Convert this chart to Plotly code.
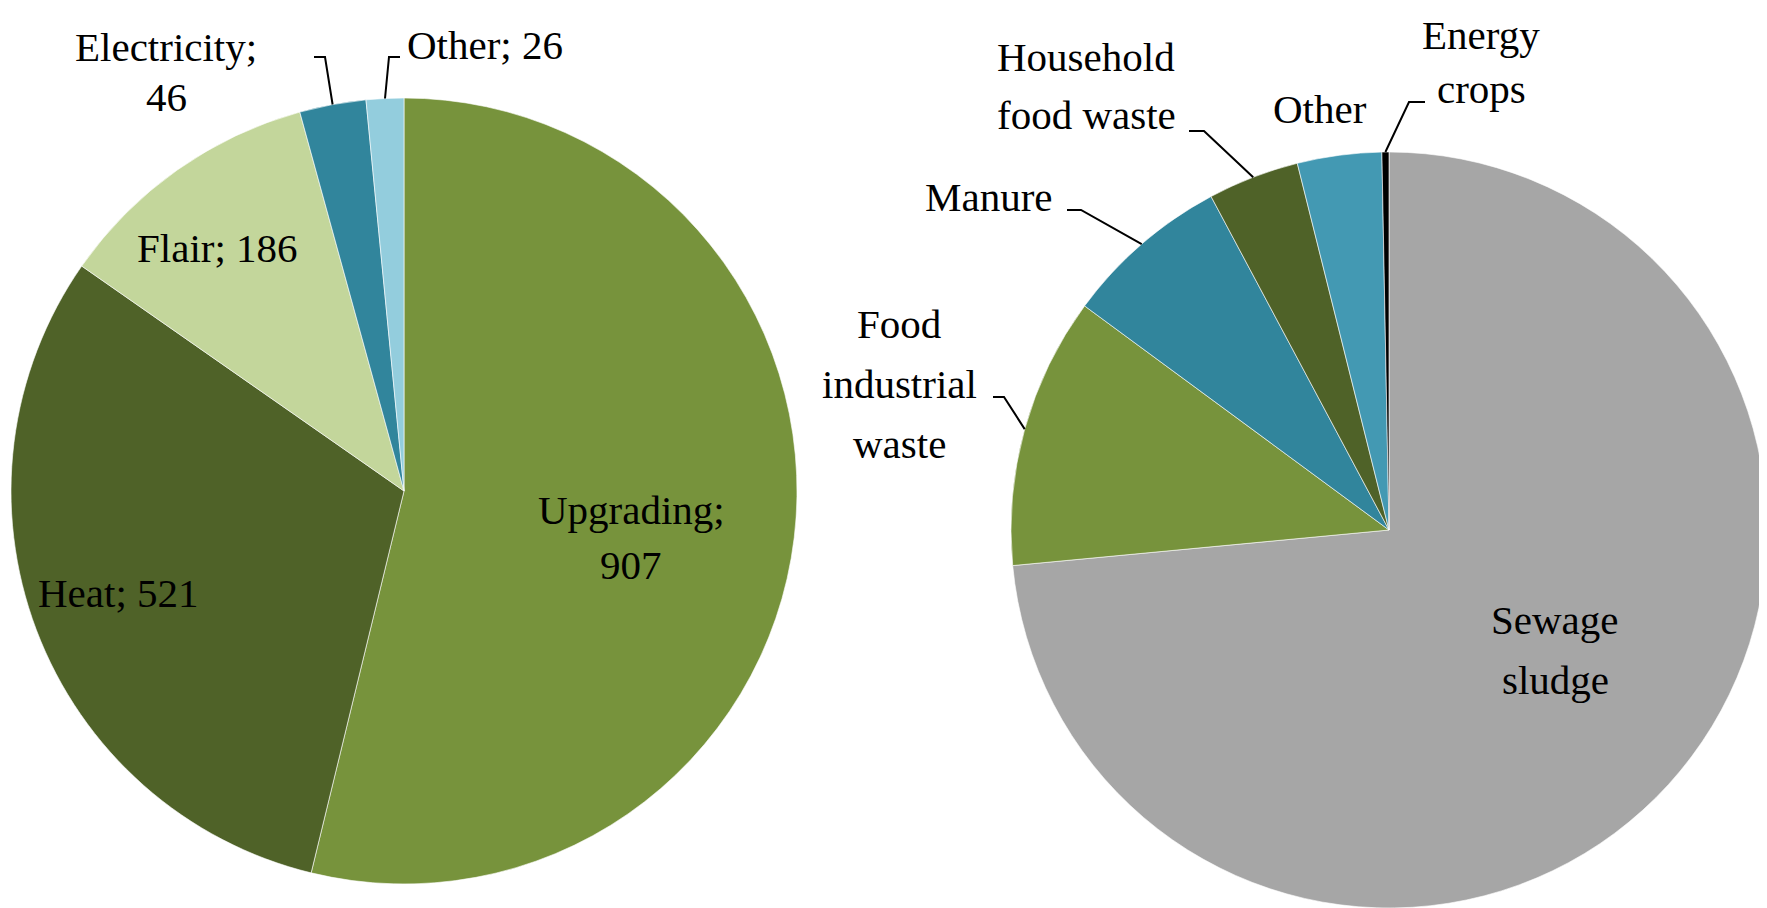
import numpy as np
import plotly.graph_objects as go

W, H = 1767, 908
OFF = 8  # the page body adds an 8px margin, so shift everything back by that

# ---- data ----
use_labels = ["Upgrading", "Heat", "Flair", "Electricity", "Other"]
use_values = [907, 521, 186, 46, 26]
use_colors = ["#77933C", "#4F6228", "#C3D69B", "#31859C", "#93CDDD"]

src_labels = ["Sewage sludge", "Food industrial waste", "Manure",
              "Household food waste", "Other", "Energy crops"]
src_values = [73.5, 11.6, 7.1, 3.9, 3.6, 0.3]   # share, %
src_colors = ["#A6A6A6", "#77933C", "#31859C", "#4F6228", "#4399B3", "#000000"]

# label texts as shown on the chart
use_text = ["Upgrading;<br>907", "Heat; 521", "Flair; 186", "Electricity;<br>46", "Other; 26"]
src_text = ["Sewage<br>sludge", "Food<br>industrial<br>waste", "Manure",
            "Household<br>food waste", "Other", "Energy<br>crops"]

# ---- layout (pixels, screen coordinates) ----
LEFT = dict(cx=404, cy=491, r=393)
RIGHT = dict(cx=1389, cy=530, r=378)

# label centres + line pitch
use_pos = [(631, 537, 55), (118, 593, 0), (217, 248, 0), (166, 72, 50), (485, 45, 0)]
src_pos = [(1555, 650, 60), (899, 384, 60), (989, 197, 0), (1086, 86, 58),
           (1320, 109, 0), (1481, 62, 54)]

# leader lines: (text end, elbow) ; slice end is taken from the data
use_leaders = {3: ((314, 57), (325, 57)), 4: ((400, 57), (389, 57))}
src_leaders = {1: ((993, 397), (1004, 397)), 2: ((1067, 210), (1081, 210)),
               3: ((1189, 131), (1204, 131)), 5: ((1425, 102), (1409, 102))}

FONT = "Liberation Serif, Times New Roman, serif"
FSIZE = 41


def domain(p):
    cx, cy = p["cx"] - OFF, p["cy"] - OFF
    return dict(x=[(cx - p["r"]) / W, (cx + p["r"]) / W],
                y=[1 - (cy + p["r"]) / H, 1 - (cy - p["r"]) / H])


def mid_angles(values):
    v = np.array(values, dtype=float)
    cum = np.cumsum(v) / v.sum() * 360
    return cum - v / v.sum() * 360 / 2


def edge_point(p, ang):
    a = np.radians(ang)
    return p["cx"] + p["r"] * np.sin(a), p["cy"] - p["r"] * np.cos(a)


fig = go.Figure()
fig.add_trace(go.Scatter(x=[], y=[], showlegend=False))

for labels, values, colors, p in [(use_labels, use_values, use_colors, LEFT),
                                  (src_labels, src_values, src_colors, RIGHT)]:
    fig.add_trace(go.Pie(
        labels=labels, values=values, sort=False, direction="clockwise", rotation=0,
        marker=dict(colors=colors, line=dict(color="white", width=0.6)),
        textinfo="none", hoverinfo="label+value", showlegend=False,
        domain=domain(p),
    ))

annotations = []
shapes = []
for texts, pos, leaders, values, p in [(use_text, use_pos, use_leaders, use_values, LEFT),
                                       (src_text, src_pos, src_leaders, src_values, RIGHT)]:
    mids = mid_angles(values)
    for i, (t, (x, y, pitch)) in enumerate(zip(texts, pos)):
        lines = t.split("<br>")
        y_first = y - pitch * (len(lines) - 1) / 2
        for k, line in enumerate(lines):
            annotations.append(dict(x=x - OFF, y=y_first + k * pitch - OFF, xref="x", yref="y",
                                    text=line, showarrow=False,
                                    xanchor="center", yanchor="middle", align="center",
                                    font=dict(family=FONT, size=FSIZE, color="black")))
        if i in leaders:
            (x0, y0), (x1, y1) = leaders[i]
            x2, y2 = edge_point(p, mids[i])
            shapes.append(dict(type="path", xref="x", yref="y",
                               path=(f"M {x0 - OFF},{y0 - OFF} L {x1 - OFF},{y1 - OFF} "
                                     f"L {x2 - OFF:.1f},{y2 - OFF:.1f}"),
                               line=dict(color="black", width=2)))

fig.update_layout(
    width=W, height=H,
    margin=dict(l=0, r=0, t=0, b=0),
    paper_bgcolor="white", plot_bgcolor="white",
    xaxis=dict(range=[0, W], visible=False, domain=[0, 1], fixedrange=True),
    yaxis=dict(range=[H, 0], visible=False, domain=[0, 1], fixedrange=True),
    annotations=annotations, shapes=shapes,
)

fig.write_html("out.html")
